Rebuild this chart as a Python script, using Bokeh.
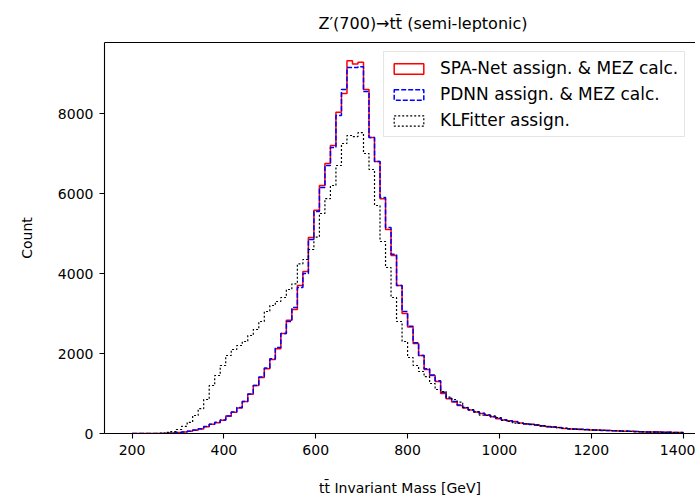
import numpy as np
from bokeh.plotting import figure
from bokeh.models import Legend, LegendItem, LinearAxis, FixedTicker, Range1d, ColumnDataSource
from bokeh.embed import file_html
from bokeh.resources import INLINE

# ---- data (12 GeV bins from 200 to 1400 GeV) ----
bin_lo, bin_hi, n_bins = 200, 1400, 100

spanet = [0, 0, 0, 0, 0, 0, 5, 15, 25, 35,
          55, 80, 115, 170, 230, 270, 330, 440, 530, 640,
          800, 980, 1200, 1400, 1620, 1850, 2120, 2500, 2830, 3100,
          3700, 4050, 4900, 5580, 6200, 6750, 7200, 8030, 8500, 9320,
          9240, 9280, 8600, 7400, 6800, 5870, 5100, 4450, 3700, 3000,
          2660, 2250, 1950, 1600, 1450, 1300, 1000, 870, 790, 700,
          640, 590, 540, 500, 460, 420, 370, 340, 320, 300,
          260, 240, 230, 210, 190, 175, 165, 150, 125, 115,
          110, 100, 95, 90, 85, 80, 75, 70, 62, 58,
          55, 50, 45, 40, 38, 35, 32, 30, 28, 25]

pdnn = [0, 0, 0, 0, 0, 0, 5, 15, 25, 40,
        55, 85, 120, 175, 230, 280, 340, 440, 540, 650,
        800, 990, 1200, 1410, 1640, 1870, 2150, 2500, 2800, 3150,
        3650, 4000, 4850, 5550, 6150, 6700, 7150, 7950, 8600, 9150,
        9150, 9170, 8550, 7400, 6800, 5900, 5150, 4480, 3700, 3050,
        2680, 2270, 1950, 1620, 1460, 1320, 1030, 880, 800, 710,
        650, 590, 545, 505, 465, 420, 380, 345, 320, 295,
        265, 245, 225, 215, 195, 170, 160, 145, 130, 120,
        110, 105, 100, 90, 80, 75, 72, 68, 65, 60,
        55, 50, 45, 40, 40, 36, 33, 30, 28, 26]

klfitter = [0, 0, 0, 0, 0, 10, 30, 45, 100, 180,
            280, 450, 620, 850, 1200, 1450, 1700, 1950, 2100, 2200,
            2300, 2450, 2600, 2800, 3050, 3200, 3300, 3400, 3600, 3740,
            4240, 4350, 4600, 4910, 5500, 5870, 6200, 6700, 7250, 7450,
            7420, 7520, 7000, 6600, 5700, 4800, 4150, 3400, 2800, 2300,
            1900, 1700, 1550, 1420, 1250, 1100, 1050, 910, 850, 785,
            650, 600, 540, 460, 450, 440, 400, 330, 300, 260,
            250, 240, 230, 210, 190, 170, 160, 150, 130, 115,
            105, 100, 95, 90, 85, 80, 75, 70, 65, 55,
            50, 45, 40, 38, 35, 32, 30, 28, 25, 22]

labels = ["SPA-Net assign. & MEZ calc.", "PDNN assign. & MEZ calc.", "KLFitter assign."]
title_text = "Z\u2032(700)\u2192tt\u0304 (semi-leptonic)"
x_ticks = [200, 400, 600, 800, 1000, 1200, 1400]
y_ticks = [0, 2000, 4000, 6000, 8000]

edges = np.linspace(bin_lo, bin_hi, n_bins + 1)


def step_xy(counts):
    xs = np.repeat(edges, 2)
    ys = np.concatenate([[0], np.repeat(np.asarray(counts, dtype=float), 2), [0]])
    return xs, ys


FONT = "DejaVu Sans"

p = figure(width=695, height=498,
           x_range=Range1d(140, 1427), y_range=Range1d(0, 9775),
           output_backend="svg", toolbar_location=None,
           min_border_left=104, min_border_right=0,
           min_border_top=42, min_border_bottom=65)
p.xgrid.visible = False
p.ygrid.visible = False
p.outline_line_color = None
p.background_fill_color = "white"

p.title.text = title_text
p.title.text_font = FONT
p.title.text_font_size = "16px"
p.title.text_font_style = "normal"
p.title.text_color = "black"
p.title.align = "left"
p.title.offset = 214
p.title.standoff = 19

for ax in (p.xaxis[0], p.yaxis[0]):
    ax.major_tick_in = 0
    ax.major_tick_out = 5
    ax.minor_tick_line_color = None
    ax.axis_line_color = "black"
    ax.axis_line_width = 1.1
    ax.major_tick_line_width = 1.1
    ax.major_label_text_font = FONT
    ax.major_label_text_font_size = "14px"
    ax.major_label_text_color = "black"
    ax.major_label_standoff = 6
    ax.axis_label_text_font = FONT
    ax.axis_label_text_font_size = "14px"
    ax.axis_label_text_font_style = "normal"
    ax.axis_label_text_color = "black"

p.xaxis.ticker = FixedTicker(ticks=x_ticks)
p.yaxis.ticker = FixedTicker(ticks=y_ticks)
p.xaxis.axis_label = "tt\u0304 Invariant Mass [GeV]"
p.yaxis.axis_label = "Count"
p.xaxis.axis_label_standoff = 22
p.yaxis.axis_label_standoff = 20

top = LinearAxis(ticker=FixedTicker(ticks=[]), axis_line_color="black", axis_line_width=1.1,
                 major_tick_line_color=None, minor_tick_line_color=None,
                 major_label_text_font_size="0px")
p.add_layout(top, "above")

xs, ys_s = step_xy(spanet)
_, ys_p = step_xy(pdnn)
_, ys_k = step_xy(klfitter)

p.line(xs, ys_s, line_color="red", line_width=1.5)
p.line(xs, ys_p, line_color="blue", line_width=1.5, line_dash="5 2")
p.line(xs, ys_k, line_color="black", line_width=1.2, line_dash="2 2")

# legend handles (unfilled rectangles like matplotlib step histograms); no visible data
nan_src = dict(left=[np.nan], right=[np.nan], bottom=[np.nan], top=[np.nan])
h1 = p.quad(source=ColumnDataSource(nan_src), left="left", right="right", bottom="bottom", top="top",
            fill_color=None, line_color="red", line_width=1.5)
h2 = p.quad(source=ColumnDataSource(nan_src), left="left", right="right", bottom="bottom", top="top",
            fill_color=None, line_color="blue", line_width=1.5, line_dash="5 2")
h3 = p.quad(source=ColumnDataSource(nan_src), left="left", right="right", bottom="bottom", top="top",
            fill_color=None, line_color="black", line_width=1.2, line_dash="2 2")

legend = Legend(items=[LegendItem(label=labels[0], renderers=[h1]),
                       LegendItem(label=labels[1], renderers=[h2]),
                       LegendItem(label=labels[2], renderers=[h3])],
                location=(279, 296), orientation="vertical",
                glyph_width=37, glyph_height=13, label_standoff=13,
                label_text_font=FONT, label_text_font_size="17px", label_text_color="black",
                padding=6, spacing=6, margin=0,
                border_line_color="#cccccc", border_line_width=1,
                background_fill_color="white", background_fill_alpha=0.8)
p.add_layout(legend)

open("out.html", "w").write(file_html(p, INLINE))
